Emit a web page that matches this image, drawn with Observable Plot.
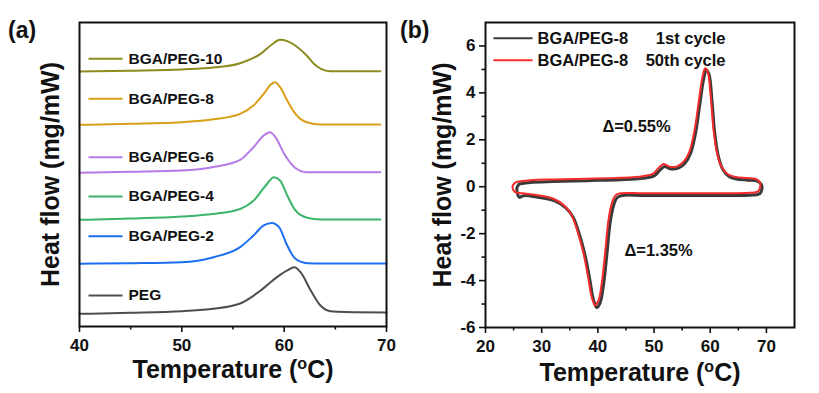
<!DOCTYPE html>
<html><head><meta charset="utf-8">
<script src="https://cdn.jsdelivr.net/npm/d3@7"></script>
<script src="https://cdn.jsdelivr.net/npm/@observablehq/plot@0.6"></script>
<style>
body{margin:0;background:#fff;}
#wrap{position:relative;width:819px;height:393px;font-family:"Liberation Sans",Arial,sans-serif;background:#fff;overflow:hidden;}
#a{position:absolute;left:0;top:0;width:400px;height:393px;}
#b{position:absolute;left:400px;top:0;width:419px;height:393px;}
.plab{position:absolute;font-weight:bold;font-size:23px;color:#111;line-height:1;}
</style></head><body>
<div id="wrap">
  <div id="a"></div><div id="b"></div>
  <div class="plab" style="left:8px;top:19px;">(a)</div>
  <div class="plab" style="left:400px;top:19px;">(b)</div>
</div>
<script>
// ---------- Panel (a) data: [temperature °C, heat flow (stacked, arb. units)] ----------
const seriesNamesA = ["PEG", "BGA/PEG-2", "BGA/PEG-4", "BGA/PEG-6", "BGA/PEG-8", "BGA/PEG-10"];
const peg = [[40,1.25],[45,1.35],[50,1.51],[53.1,1.75],[55.7,2.27],[57.7,3.55],[59.3,4.87],[60.3,5.53],[61.0,5.85],[61.6,5.36],[62.6,3.55],[63.55,2.07],[64.5,1.51],[66,1.42],[70,1.38]];
const bga2 = [[40,6.19],[45,6.25],[50,6.35],[53.1,6.84],[55.7,7.83],[57.0,8.98],[58.0,9.97],[58.8,10.21],[59.5,9.8],[60.3,7.99],[61.1,6.68],[62.25,6.25],[64,6.22],[70,6.22]];
const bga4 = [[40,10.53],[45,10.65],[50,10.85],[53,11.1],[55.7,11.6],[57.0,12.4],[58.2,13.91],[59.0,14.73],[59.6,14.41],[60.3,12.93],[61.1,11.45],[62.25,10.73],[63.55,10.56],[69.4,10.56]];
const bga6 = [[40,15.17],[45,15.27],[50,15.4],[53.1,15.75],[55.7,16.45],[57.0,17.69],[58.0,18.85],[58.6,19.17],[59.15,18.68],[60.0,17.04],[61.0,15.72],[62.2,15.23],[69.4,15.23]];
const bga8 = [[40,19.9],[45,20.0],[49.9,20.16],[53.1,20.45],[55.7,20.99],[57.0,21.81],[58.0,22.96],[58.7,23.88],[59.1,24.11],[59.6,23.62],[60.3,22.3],[61.1,20.99],[62.2,20.16],[63.6,19.93],[69.4,19.93]];
const bga10 = [[40,25.17],[45,25.25],[50,25.37],[53.1,25.55],[55.7,25.98],[57.7,26.91],[58.8,27.83],[59.6,28.29],[60.3,28.16],[61.3,27.56],[62.2,26.74],[62.9,25.93],[63.6,25.43],[64.5,25.2],[69.4,25.2]];
const xTicksA = [40, 50, 60, 70];
const xMinorA = [45, 55, 65];

// ---------- Panel (b) data: closed DSC loops [temperature °C, heat flow mg/mW] ----------
const seriesNamesB = ["1st cycle", "50th cycle"];
const cycle1 = [[26.0,0.12],[28,0.18],[32,0.22],[38,0.26],[44,0.3],[48,0.36],[50,0.46],[51.1,0.72],[51.9,0.86],[52.7,0.78],[53.5,0.76],[54.4,0.8],[55.5,1.0],[56.5,1.42],[57.4,2.3],[58.2,3.6],[58.8,4.55],[59.3,4.98],[59.8,4.78],[60.3,3.7],[60.8,2.3],[61.4,1.35],[62.2,0.76],[63.4,0.43],[64.7,0.33],[66.7,0.28],[68.4,0.24],[69.1,0.1],[69.2,-0.1],[68.8,-0.3],[67,-0.36],[62,-0.37],[55,-0.37],[48,-0.37],[44.3,-0.37],[43.4,-0.47],[42.8,-0.8],[42.2,-1.5],[41.6,-2.9],[41.0,-4.2],[40.4,-4.95],[39.8,-5.15],[39.2,-4.8],[38.6,-4.0],[37.8,-3.0],[36.8,-2.1],[35.6,-1.3],[34.3,-0.9],[32.3,-0.6],[29.3,-0.45],[26.8,-0.38],[26.0,-0.45],[25.7,-0.3],[25.6,-0.05],[26.0,0.12]];
const cycle50 = [[25.9,0.22],[28,0.28],[32,0.31],[38,0.34],[44,0.38],[48,0.45],[49.8,0.55],[50.9,0.82],[51.7,0.97],[52.5,0.88],[53.3,0.84],[54.2,0.88],[55.3,1.08],[56.3,1.5],[57.2,2.4],[58.0,3.7],[58.6,4.65],[59.1,5.05],[59.6,4.85],[60.1,3.8],[60.6,2.4],[61.2,1.45],[62.0,0.85],[63.2,0.52],[64.5,0.42],[66.5,0.37],[68.1,0.33],[68.8,0.2],[68.9,0.0],[68.5,-0.2],[67,-0.26],[62,-0.28],[55,-0.28],[48,-0.28],[44,-0.28],[43.1,-0.38],[42.5,-0.7],[41.9,-1.4],[41.3,-2.8],[40.7,-4.1],[40.1,-4.85],[39.5,-5.05],[38.9,-4.7],[38.3,-3.9],[37.5,-2.9],[36.5,-2.0],[35.3,-1.2],[34,-0.8],[32,-0.5],[29,-0.35],[26.5,-0.28],[25.2,-0.22],[24.8,-0.02],[25.2,0.16],[25.9,0.22]];
const xTicksB = [20, 30, 40, 50, 60, 70];
const xMinorB = [25, 35, 45, 55, 65];
const yTicksB = [-6, -4, -2, 0, 2, 4, 6];
const yMinorB = [-5, -3, -1, 1, 3, 5];
const notesB = ["\u0394=0.55%", "\u0394=1.35%"];

// ---------- styles ----------
const FONT = "Liberation Sans, Arial, sans-serif";
const colorsA = ["#4d4d4d", "#1c6ef2", "#3cb46c", "#b67ae6", "#d9a017", "#8c8c1f"];
const colorsB = ["#3a3a3a", "#f52a2a"];
const seriesA = [peg, bga2, bga4, bga6, bga8, bga10];
// label anchor heights (layout, in panel-a y units) for the in-plot legend
const labelYA = [3.06, 8.91, 12.83, 16.71, 22.47, 26.42];

const lineA = (d, i) => Plot.line(d, {x: p => p[0], y: p => p[1], stroke: colorsA[i], strokeWidth: 2, curve: "monotone-x"});
const legA = seriesNamesA.map((n, i) => ({name: n, y: labelYA[i], c: colorsA[i]}));

const plotA = Plot.plot({
  width: 400, height: 393,
  marginLeft: 79, marginRight: 14, marginTop: 22, marginBottom: 67,
  x: {domain: [40, 70], axis: null},
  y: {domain: [0, 30], axis: null},
  style: {fontFamily: FONT, fontWeight: "bold", color: "#111", background: "transparent", overflow: "visible"},
  marks: [
    ...seriesA.map(lineA),
    Plot.link(legA, {x1: 40.88, x2: 44.2, y1: "y", y2: "y", stroke: "c", strokeWidth: 2}),
    Plot.text(legA, {x: 44.79, y: "y", text: "name", textAnchor: "start", fontSize: 15.5, fontWeight: "bold", fill: "#111"}),
    Plot.frame({stroke: "#111", strokeWidth: 2}),
    Plot.axisX({ticks: xTicksA, tickSize: 6, tickPadding: 6, fontSize: 17, fontWeight: "bold", label: null, strokeWidth: 1.6, tickFormat: d => String(d)}),
    Plot.axisX({ticks: xMinorA, tickSize: 3.5, tickFormat: () => "", label: null, strokeWidth: 1.6}),
    Plot.text(["Temperature (oC)"], {frameAnchor: "bottom", lineAnchor: "middle", textAnchor: "middle", dy: 43, fontSize: 25, fontWeight: "bold", fill: "#111"}),
    Plot.text(["Heat flow (mg/mW)"], {frameAnchor: "left", lineAnchor: "middle", textAnchor: "middle", dx: -29, rotate: -90, fontSize: 25, fontWeight: "bold", fill: "#111"})
  ]
});

const legB = [
  {y: 6.33, c: colorsB[0], t: seriesNamesB[0]},
  {y: 5.39, c: colorsB[1], t: seriesNamesB[1]}
];
const plotB = Plot.plot({
  width: 419, height: 393,
  marginLeft: 85, marginRight: 25, marginTop: 22, marginBottom: 66,
  x: {domain: [20, 75], axis: null},
  y: {domain: [-6, 7], axis: null},
  style: {fontFamily: FONT, fontWeight: "bold", color: "#111", background: "transparent", overflow: "visible"},
  marks: [
    Plot.line(cycle1, {x: p => p[0], y: p => p[1], stroke: colorsB[0], strokeWidth: 3, curve: "catmull-rom"}),
    Plot.line(cycle50, {x: p => p[0], y: p => p[1], stroke: colorsB[1], strokeWidth: 2, curve: "catmull-rom"}),
    Plot.link(legB, {x1: 21.42, x2: 28.37, y1: "y", y2: "y", stroke: "c", strokeWidth: 2}),
    Plot.text(legB, {x: 29.26, y: "y", text: () => "BGA/PEG-8", textAnchor: "start", fontSize: 16.5, fontWeight: "bold", fill: "#111"}),
    Plot.text(legB, {x: 62.72, y: "y", text: "t", textAnchor: "end", fontSize: 16.5, fontWeight: "bold", fill: "#111"}),
    Plot.text([notesB[0]], {x: 46.88, y: 2.55, fontSize: 16.5, fontWeight: "bold", fill: "#111"}),
    Plot.text([notesB[1]], {x: 50.8, y: -2.74, fontSize: 16.5, fontWeight: "bold", fill: "#111"}),
    Plot.frame({stroke: "#111", strokeWidth: 2}),
    Plot.axisX({ticks: xTicksB, tickSize: 6, tickPadding: 6, fontSize: 17, fontWeight: "bold", label: null, strokeWidth: 1.6, tickFormat: d => String(d)}),
    Plot.axisX({ticks: xMinorB, tickSize: 3.5, tickFormat: () => "", label: null, strokeWidth: 1.6}),
    Plot.axisY({ticks: yTicksB, tickSize: 6, tickPadding: 4, fontSize: 17, fontWeight: "bold", label: null, strokeWidth: 1.6, tickFormat: d => String(d)}),
    Plot.axisY({ticks: yMinorB, tickSize: 3.5, tickFormat: () => "", label: null, strokeWidth: 1.6}),
    Plot.text(["Temperature (oC)"], {frameAnchor: "bottom", lineAnchor: "middle", textAnchor: "middle", dy: 45, fontSize: 25, fontWeight: "bold", fill: "#111"}),
    Plot.text(["Heat flow (mg/mW)"], {frameAnchor: "left", lineAnchor: "middle", textAnchor: "middle", dx: -43, rotate: -90, fontSize: 25, fontWeight: "bold", fill: "#111"})
  ]
});

function fixSup(svg) {
  d3.select(svg).selectAll("text").each(function () {
    if (this.textContent === "Temperature (oC)") {
      const t = d3.select(this);
      t.text(null);
      t.append("tspan").text("Temperature (");
      t.append("tspan").attr("dy", -9).attr("font-size", 16).text("o");
      t.append("tspan").attr("dy", 9).text("C)");
    }
  });
}
fixSup(plotA); fixSup(plotB);
document.getElementById("a").appendChild(plotA);
document.getElementById("b").appendChild(plotB);
</script>
</body></html>
